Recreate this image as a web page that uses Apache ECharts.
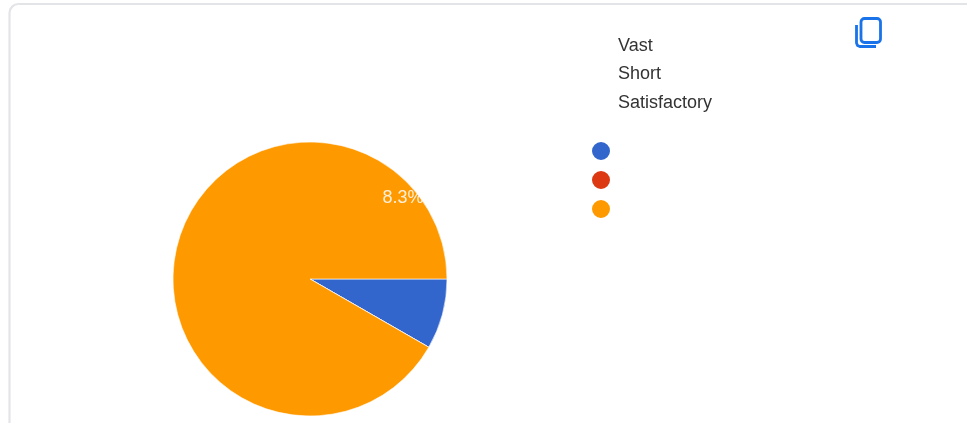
<!DOCTYPE html>
<html>
<head>
<meta charset="utf-8">
<style>html,body{margin:0;padding:0;background:#fff}#c{width:967px;height:423px}</style>
<script src="https://cdn.jsdelivr.net/npm/echarts@6/dist/echarts.min.js"></script>
</head>
<body>
<div id="c"></div>
<script>
const categories = ['Vast', 'Short', 'Satisfactory'];
const values = [8.3, 0, 91.7];
const colors = ['#3366cc', '#dc3912', '#ff9900'];
const labelText = '8.3%';

const chart = echarts.init(document.getElementById('c'), null, {renderer: 'canvas'});
chart.setOption({
  animation: false,
  backgroundColor: '#fff',
  color: colors,
  legend: [
    {
      data: categories, orient: 'vertical', left: 599, top: 32, itemGap: 10.5,
      itemWidth: 0, itemHeight: 20, icon: 'circle', selectedMode: false,
      textStyle: {color: '#333', fontSize: 18, fontFamily: 'Liberation Sans', padding: [0, 0, 0, 8]}
    },
    {
      data: categories, orient: 'vertical', left: 585, top: 135, itemGap: 7,
      itemWidth: 20, itemHeight: 20, icon: 'circle', selectedMode: false,
      formatter: () => '', textStyle: {fontSize: 1}
    }
  ],
  graphic: [
    {type: 'rect', z: -1, shape: {x: 9.5, y: 4, width: 1100, height: 600, r: 9},
     style: {fill: '#fff', stroke: '#e3e4e7', lineWidth: 2.2}},
    {type: 'rect', z: 5, shape: {x: 861, y: 18.5, width: 19.5, height: 24, r: 3.5},
     style: {fill: 'none', stroke: '#1a73e8', lineWidth: 2.8}},
    {type: 'polyline', z: 5, shape: {points: [[856.5, 25], [856.5, 43], [857.5, 45.5], [860, 46.5], [876, 46.5]]},
     style: {fill: 'none', stroke: '#1a73e8', lineWidth: 2.8}}
  ],
  series: [{
    type: 'pie',
    center: [310, 279],
    radius: [0, 137],
    startAngle: 0,
    clockwise: true,
    stillShowZeroSum: true,
    itemStyle: {borderColor: '#fff', borderWidth: 0.6},
    emphasis: {disabled: true},
    labelLine: {show: false},
    data: categories.map((name, i) => ({
      name, value: values[i],
      label: i === 0
        ? {show: true, position: 'inside', formatter: labelText, color: '#fff', fontSize: 18, fontFamily: 'Liberation Sans', opacity: 0.85}
        : {show: false}
    })),
    labelLayout: p => p.dataIndex === 0 ? {x: 403, y: 198, align: 'center', verticalAlign: 'middle'} : {}
  }]
});
</script>
</body>
</html>
